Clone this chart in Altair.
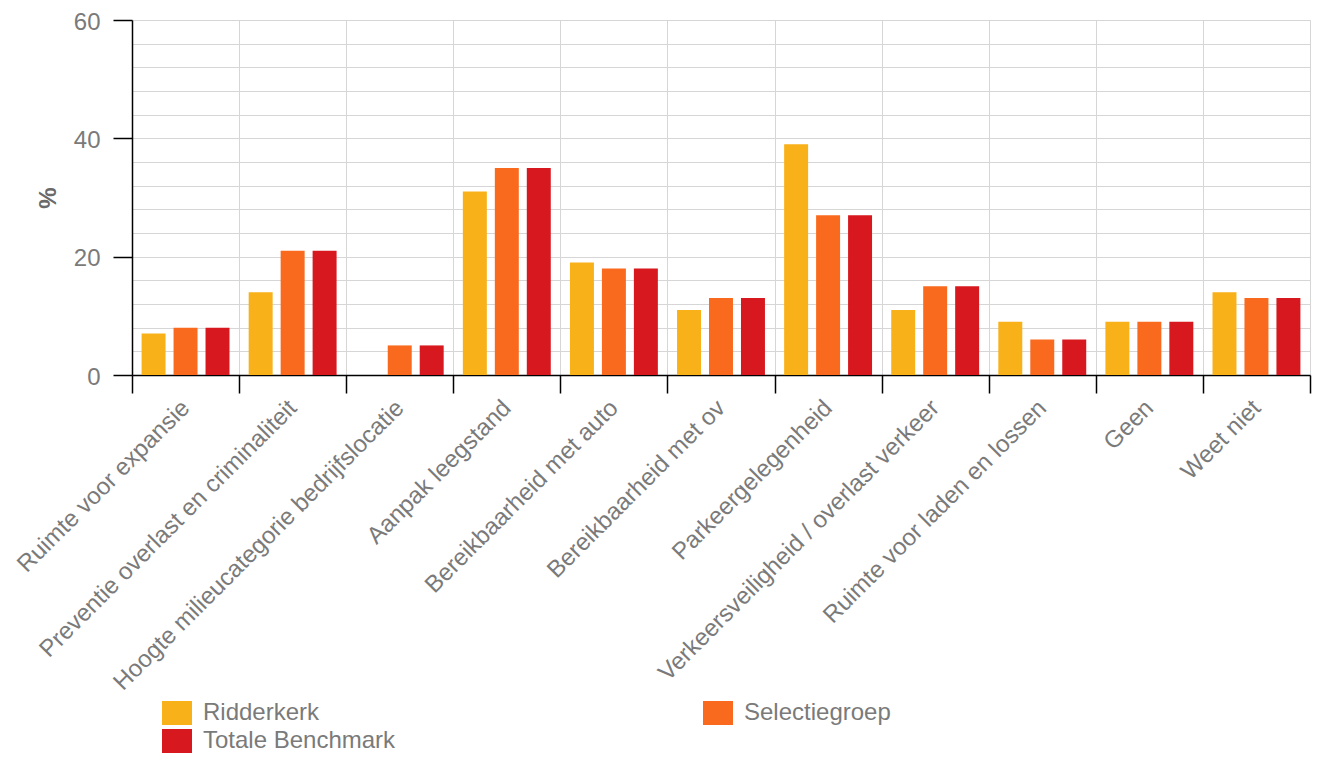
import altair as alt
import pandas as pd

categories = [
    "Ruimte voor expansie",
    "Preventie overlast en criminaliteit",
    "Hoogte milieucategorie bedrijfslocatie",
    "Aanpak leegstand",
    "Bereikbaarheid met auto",
    "Bereikbaarheid met ov",
    "Parkeergelegenheid",
    "Verkeersveiligheid / overlast verkeer",
    "Ruimte voor laden en lossen",
    "Geen",
    "Weet niet",
]
series = ["Ridderkerk", "Selectiegroep", "Totale Benchmark"]
ridderkerk = [7, 14, 0, 31, 19, 11, 39, 11, 9, 9, 14]
selectiegroep = [8, 21, 5, 35, 18, 13, 27, 15, 6, 9, 13]
totale_benchmark = [8, 21, 5, 35, 18, 13, 27, 15, 6, 9, 13]
colors = ["#F9B11A", "#F96A1F", "#D7191F"]
y_grid_values = [0, 4, 8, 12, 16, 20, 24, 28, 32, 36, 40, 44, 48, 52, 56, 60]

rows = []
for i, c in enumerate(categories):
    for s, vals in zip(series, [ridderkerk, selectiegroep, totale_benchmark]):
        rows.append({"categorie": c, "groep": s, "waarde": vals[i]})
df = pd.DataFrame(rows)

font = "Liberation Sans"
label_color = "#7a7a7a"
grid_color = "#d6d6d6"

chart = alt.Chart(df).mark_bar().encode(
    x=alt.X(
        "categorie:N",
        sort=categories,
        title=None,
        scale=alt.Scale(paddingInner=0, paddingOuter=0),
        axis=alt.Axis(
            tickBand="extent",
            grid=True,
            gridColor=grid_color,
            gridWidth=1,
            domainColor="#000000",
            domainWidth=1.5,
            tickColor="#000000",
            tickSize=18,
            tickWidth=1.5,
            labelAngle=-45,
            labelAlign="right",
            labelBaseline="middle",
            labelFontSize=24,
            labelFont=font,
            labelColor=label_color,
            labelPadding=11,
            labelLimit=0,
        ),
    ),
    xOffset=alt.XOffset(
        "groep:N",
        sort=series,
        scale=alt.Scale(paddingInner=0.25, paddingOuter=0.3),
    ),
    y=alt.Y(
        "waarde:Q",
        title="%",
        scale=alt.Scale(domain=[0, 60], nice=False),
        axis=alt.Axis(
            values=y_grid_values,
            grid=True,
            gridColor=grid_color,
            gridWidth=1,
            domainColor="#000000",
            domainWidth=1.5,
            tickColor="#000000",
            tickSize=19,
            tickWidth=1.5,
            tickOpacity={"condition": {"test": "datum.value % 20 === 0", "value": 1}, "value": 0},
            labelExpr="datum.value % 20 === 0 ? datum.label : ''",
            labelFontSize=24,
            labelFont=font,
            labelColor=label_color,
            labelPadding=13,
            labelOffset=2,
            titleFontSize=24,
            titleFont=font,
            titleColor="#6a6a6a",
            titleFontWeight="bold",
            titlePadding=13,
        ),
    ),
    color=alt.Color(
        "groep:N",
        sort=series,
        scale=alt.Scale(domain=series, range=colors),
        legend=alt.Legend(
            title=None,
            orient="none",
            legendX=33,
            legendY=681,
            columns=2,
            direction="horizontal",
            symbolType="M-1.25,-1H1.25V1H-1.25Z",
            symbolSize=576,
            symbolStrokeWidth=0,
            symbolOpacity=1,
            labelFontSize=24,
            labelFont=font,
            labelColor=label_color,
            labelOffset=14,
            labelLimit=0,
            columnPadding=307,
            rowPadding=4,
            padding=0,
        ),
    ),
).properties(
    width=1178,
    height=355,
    autosize=alt.AutoSizeParams(type="none"),
    padding={"left": 124, "top": 12, "right": 5, "bottom": 378},
).configure_view(stroke=None).configure(background="white")

chart.save("out.html", embed_options={"renderer": "svg", "actions": False})
